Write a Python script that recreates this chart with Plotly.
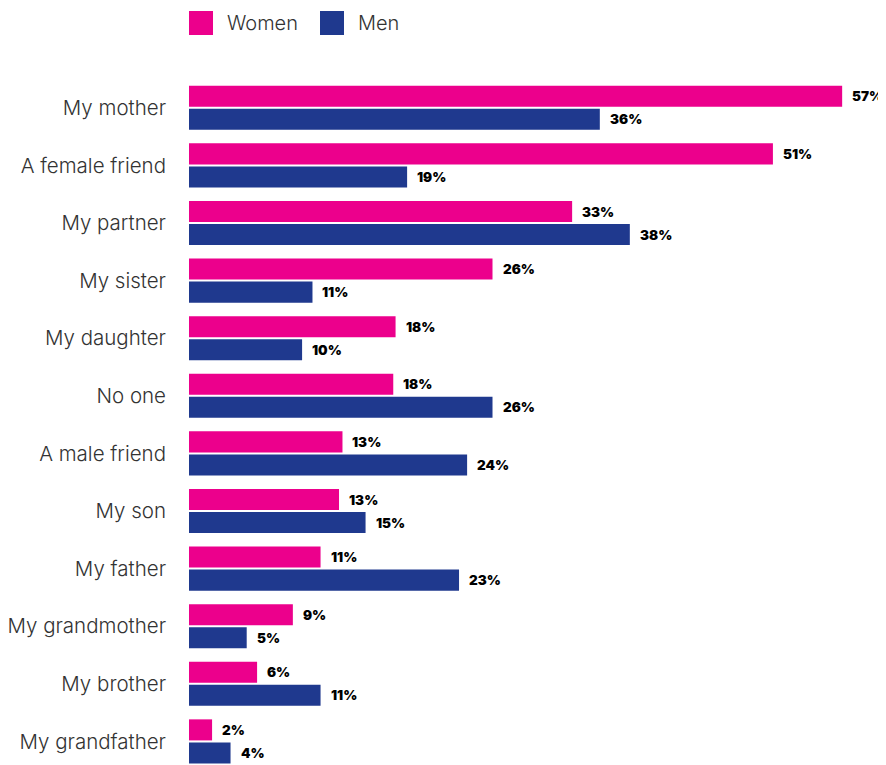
import plotly.graph_objects as go

categories = ["My mother", "A female friend", "My partner", "My sister", "My daughter",
              "No one", "A male friend", "My son", "My father", "My grandmother",
              "My brother", "My grandfather"]
# bar lengths (unrounded)
women = [56.6, 50.6, 33.2, 26.3, 17.9, 17.7, 13.3, 13.0, 11.4, 9.0, 5.9, 2.0]
men = [35.6, 18.9, 38.2, 10.7, 9.8, 26.3, 24.1, 15.3, 23.4, 5.0, 11.4, 3.6]
# value labels as printed
women_labels = ["57%", "51%", "33%", "26%", "18%", "18%", "13%", "13%", "11%", "9%", "6%", "2%"]
men_labels = ["36%", "19%", "38%", "11%", "10%", "26%", "24%", "15%", "23%", "5%", "11%", "4%"]
series_names = ["Women", "Men"]
colors = ["#EC008C", "#1F398E"]

OFF = 8  # page body margin
W, H = 886 - OFF, 765 - OFF
L, R, T, B = 189 - OFF, 10, 79 - OFF, 0
pw, ph = W - L - R, H - T - B

fig = go.Figure()
for name, vals, col in zip(series_names, [women, men], colors):
    fig.add_trace(go.Bar(y=categories, x=vals, name=name, orientation="h",
                         marker=dict(color=col, line=dict(width=0)),
                         showlegend=False, hoverinfo="skip"))

# value labels
label_font = dict(family="Inter, Roboto, Arial", size=13.5, color="#000000", weight=900)
for vals, labels, shift in [(women, women_labels, 11.5), (men, men_labels, -11.5)]:
    for c, v, t in zip(categories, vals, labels):
        fig.add_annotation(x=v, y=c, text=t, showarrow=False, xanchor="left",
                           xshift=8, yshift=shift, font=label_font)

# custom legend (screen pixel positions converted to paper coords)
def px_x(p):
    return (p - OFF - L) / pw

def px_y(p):
    return 1 - (p - OFF - T) / ph

for name, col, x0 in zip(series_names, colors, [189, 320]):
    fig.add_shape(type="rect", xref="paper", yref="paper",
                  x0=px_x(x0), x1=px_x(x0 + 24), y0=px_y(35), y1=px_y(11),
                  fillcolor=col, line=dict(width=0))
    fig.add_annotation(xref="paper", yref="paper", x=px_x(x0 + 36), y=px_y(23),
                       text=name, showarrow=False, xanchor="left", yanchor="middle",
                       font=dict(family="Inter, Lato, Arial", size=20, color="#333333", weight=300))

fig.update_layout(
    width=W, height=H,
    margin=dict(l=L, r=R, t=T, b=B, pad=0),
    barmode="group", bargap=0.2, bargroupgap=0.087,
    plot_bgcolor="white", paper_bgcolor="white",
    xaxis=dict(range=[0, pw / 11.54], visible=False, fixedrange=True),
    yaxis=dict(type="category", categoryorder="array", categoryarray=categories,
               range=[ph / 57.6 - 0.5, -0.5], showgrid=False, zeroline=False,
               showline=False, ticks="", ticklabelstandoff=22,
               tickfont=dict(family="Inter, Lato, Arial", size=20.5, color="#333333", weight=300)),
    showlegend=False,
)

fig.write_html("out.html")
